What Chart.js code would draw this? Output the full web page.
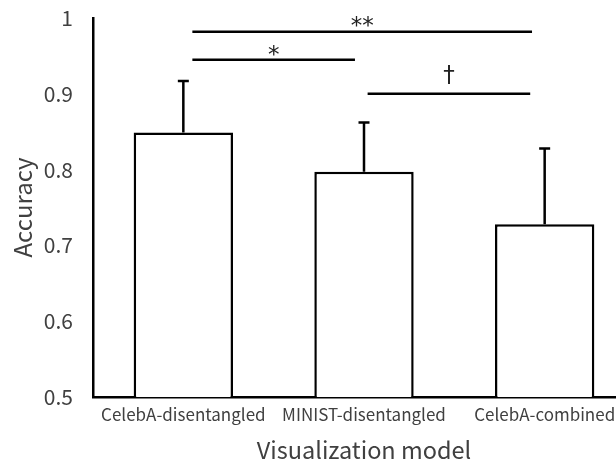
<!DOCTYPE html>
<html><head><meta charset="utf-8">
<script src="https://cdn.jsdelivr.net/npm/chart.js@4.4.1/dist/chart.umd.min.js"></script>
<style>html,body{margin:0;padding:0;overflow:hidden;background:#fff}canvas{display:block}</style>
</head><body>
<canvas id="c" width="635" height="462"></canvas>
<script>
const categories = ['CelebA-disentangled', 'MINIST-disentangled', 'CelebA-combined'];
const accuracy = [0.849, 0.797, 0.728];
const errorUp = [0.068, 0.065, 0.100];
const yTickLabels = ['0.5', '0.6', '0.7', '0.8', '0.9', '1'];
const sigLabels = ['**', '*', '†'];
const sigFrom = [0.05, 0.05, 1.02];
const sigTo = [1.93, 0.95, 1.92];
const sigLevel = [0.982, 0.945, 0.9];
const sigLabelLevel = [0.996, 0.957, 0.926];

const FONT = '"Noto Sans CJK SC", "Noto Sans", sans-serif';
const TEXT = '#404040';

const annotations = {
  id: 'annotations',
  afterDatasetsDraw(chart) {
    const ctx = chart.ctx;
    const x = chart.scales.x, y = chart.scales.y;
    ctx.save();
    ctx.strokeStyle = '#000';
    ctx.lineWidth = 2.5;
    accuracy.forEach((v, i) => {
      const px = x.getPixelForValue(i);
      const y0 = y.getPixelForValue(v);
      const y1 = y.getPixelForValue(v + errorUp[i]);
      ctx.beginPath();
      ctx.moveTo(px, y0); ctx.lineTo(px, y1);
      ctx.moveTo(px - 5.5, y1); ctx.lineTo(px + 5.5, y1);
      ctx.stroke();
    });
    ctx.fillStyle = '#222';
    ctx.font = '23px "DejaVu Sans", sans-serif';
    ctx.textAlign = 'center';
    ctx.textBaseline = 'alphabetic';
    sigLabels.forEach((lab, i) => {
      const xa = x.getPixelForValue(sigFrom[i]);
      const xb = x.getPixelForValue(sigTo[i]);
      const py = y.getPixelForValue(sigLevel[i]);
      ctx.beginPath();
      ctx.moveTo(xa, py); ctx.lineTo(xb, py);
      ctx.stroke();
      const m = ctx.measureText(lab);
      const yc = y.getPixelForValue(sigLabelLevel[i]);
      const base = yc + (m.actualBoundingBoxAscent - m.actualBoundingBoxDescent) / 2;
      ctx.fillText(lab, (xa + xb) / 2, base);
    });
    ctx.restore();
  }
};

new Chart(document.getElementById('c'), {
  type: 'bar',
  data: {
    labels: categories,
    datasets: [{
      data: accuracy,
      backgroundColor: '#fff',
      borderColor: '#000',
      borderWidth: 2.5,
      categoryPercentage: 1,
      barPercentage: 0.55
    }]
  },
  options: {
    responsive: false,
    animation: false,
    devicePixelRatio: 1,
    layout: { padding: { top: 18, left: 0, right: 0, bottom: 0 } },
    plugins: { legend: { display: false }, tooltip: { enabled: false } },
    scales: {
      x: {
        grid: { display: false, drawTicks: false },
        border: { display: true, color: '#000', width: 2.5 },
        ticks: { color: TEXT, font: { family: FONT, size: 17 }, padding: 7, maxRotation: 0, autoSkip: false },
        title: { display: true, text: 'Visualization model', color: TEXT, font: { family: FONT, size: 23.5, lineHeight: 1 }, padding: { top: 1, bottom: 0 } },
        afterFit(s) { s.height = 65; s.paddingLeft = 0; s.paddingRight = 0; }
      },
      y: {
        min: 0.5, max: 1,
        grid: { display: false, drawTicks: false },
        border: { display: true, color: '#000', width: 2.5 },
        ticks: {
          stepSize: 0.1, color: TEXT, padding: 20,
          font: { family: FONT, size: 21 },
          callback: (v, i) => yTickLabels[i]
        },
        title: { display: true, text: 'Accuracy', color: TEXT, font: { family: FONT, size: 24, lineHeight: 1 }, padding: { top: 11, bottom: 0 } },
        afterFit(s) { s.width = 93; s.paddingTop = 0; s.paddingBottom = 0; }
      }
    }
  },
  plugins: [annotations]
});
</script>
</body></html>
